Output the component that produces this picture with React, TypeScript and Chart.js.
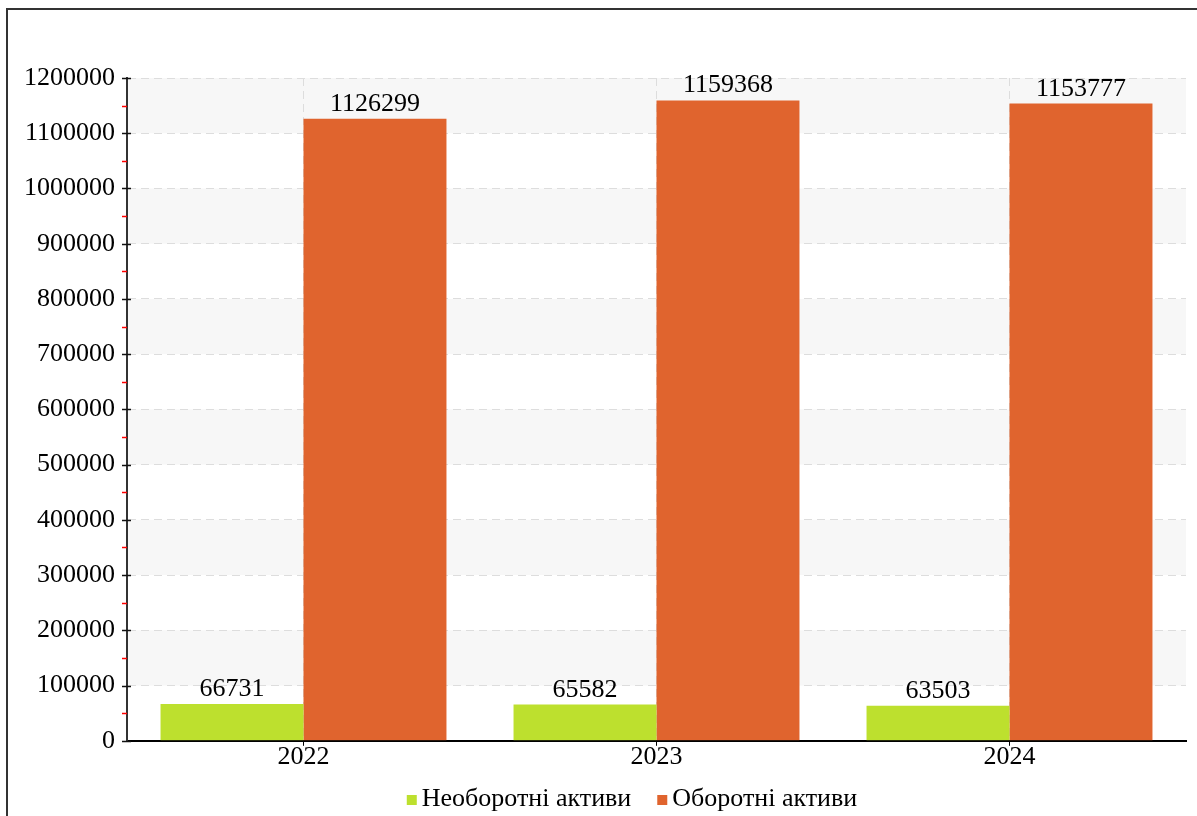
import React, { useEffect, useRef } from "react";
import { Chart, registerables } from "chart.js";

Chart.register(...registerables);

const categories = ["2022", "2023", "2024"];
const seriesNames = ["Необоротні активи", "Оборотні активи"];
const nonCurrentAssets = [66731, 65582, 63503];
const currentAssets = [1126299, 1159368, 1153777];
const seriesColors = ["#bde02e", "#e0642e"];
const yMax = 1200000;
const yStep = 100000;

const FONT = "'Liberation Serif', 'Times New Roman', serif";
const FS = 26;

const bandsPlugin = {
  id: "bands",
  beforeDraw(chart: any) {
    const { ctx, chartArea } = chart;
    const y = chart.scales.y;
    ctx.save();
    ctx.fillStyle = "#f7f7f7";
    for (let v = yStep; v < yMax; v += 2 * yStep) {
      const top = y.getPixelForValue(v + yStep);
      const bot = y.getPixelForValue(v);
      ctx.fillRect(chartArea.left, top, chartArea.right - chartArea.left, bot - top);
    }
    ctx.restore();
  },
  afterDraw(chart: any) {
    const { ctx } = chart;
    const y = chart.scales.y;
    const ax = chart.chartArea.left;
    ctx.save();
    ctx.lineWidth = 1.5;
    for (let v = 0; v <= yMax; v += yStep / 2) {
      const py = Math.round(y.getPixelForValue(v)) + 0.5;
      const major = v % yStep === 0;
      ctx.strokeStyle = major ? "#111" : "#ff0000";
      ctx.beginPath();
      ctx.moveTo(ax - 5, py);
      ctx.lineTo(major ? ax + 4 : ax, py);
      ctx.stroke();
    }
    ctx.restore();
  },
};

const labelsPlugin = {
  id: "valueLabels",
  afterDatasetsDraw(chart: any) {
    const { ctx } = chart;
    ctx.save();
    ctx.font = `${FS}px ${FONT}`;
    ctx.fillStyle = "#000";
    ctx.textAlign = "center";
    ctx.textBaseline = "alphabetic";
    chart.data.datasets.forEach((ds: any, i: number) => {
      const meta = chart.getDatasetMeta(i);
      meta.data.forEach((el: any, j: number) => {
        ctx.fillText(String(ds.data[j]), el.x, el.y - 8);
      });
    });
    ctx.restore();
  },
};

const legendPlugin = {
  id: "customLegend",
  afterDraw(chart: any) {
    const { ctx } = chart;
    const box = 10;
    const gap = 5;
    const itemGap = 26;
    const centerX = 632;
    const baseline = 806;
    ctx.save();
    ctx.font = `${FS}px ${FONT}`;
    ctx.textBaseline = "alphabetic";
    ctx.textAlign = "left";
    const items = chart.data.datasets.map((ds: any) => ({
      text: ds.label,
      color: ds.backgroundColor,
      w: ctx.measureText(ds.label).width,
    }));
    const total =
      items.reduce((s: number, it: any) => s + box + gap + it.w, 0) + itemGap * (items.length - 1);
    let x = centerX - total / 2;
    items.forEach((it: any) => {
      ctx.fillStyle = it.color;
      ctx.fillRect(x, baseline - 11, box, box);
      x += box + gap;
      ctx.fillStyle = "#000";
      ctx.fillText(it.text, x, baseline);
      x += it.w + itemGap;
    });
    ctx.restore();
  },
};

export default function App() {
  const ref = useRef<HTMLCanvasElement>(null);
  useEffect(() => {
    const chart = new Chart(ref.current!, {
      type: "bar",
      data: {
        labels: categories,
        datasets: [
          {
            label: seriesNames[0],
            data: nonCurrentAssets,
            backgroundColor: seriesColors[0],
            categoryPercentage: 0.81,
            barPercentage: 1,
          },
          {
            label: seriesNames[1],
            data: currentAssets,
            backgroundColor: seriesColors[1],
            categoryPercentage: 0.81,
            barPercentage: 1,
          },
        ],
      },
      options: {
        animation: false,
        responsive: false,
        maintainAspectRatio: false,
        layout: { padding: { left: 0, right: 11, top: 78, bottom: 47 } },
        plugins: {
          tooltip: { enabled: false },
          legend: { display: false },
        },
        scales: {
          x: {
            grid: {
              offset: false,
              color: "#dddddd",
              drawTicks: true,
              tickLength: 5,
              tickColor: "#000",
              tickBorderDash: [],
            },
            border: { color: "#000", width: 2, dash: [8, 5] },
            ticks: { color: "#000", font: { family: FONT, size: FS }, padding: -4 },
          },
          y: {
            min: 0,
            max: yMax,
            afterFit: (s: any) => {
              s.width = 127;
            },
            grid: {
              color: "#dddddd",
              drawTicks: false,
            },
            border: { color: "#333", width: 2, dash: [8, 5] },
            ticks: {
              stepSize: yStep,
              color: "#000",
              padding: 12,
              font: { family: FONT, size: FS },
              callback: (v: any) => String(v),
            },
          },
        },
      },
      plugins: [bandsPlugin, labelsPlugin, legendPlugin],
    });
    return () => chart.destroy();
  }, []);
  return (
    <div style={{ position: "fixed", left: 0, top: 0, width: 1197, height: 816, overflow: "hidden", background: "#fff" }}>
      <div
        style={{
          position: "absolute",
          left: 6,
          top: 8,
          width: 1300,
          height: 900,
          border: "2px solid #333",
        }}
      />
      <canvas ref={ref} width={1197} height={816} style={{ position: "absolute", left: 0, top: 0 }} />
    </div>
  );
}
